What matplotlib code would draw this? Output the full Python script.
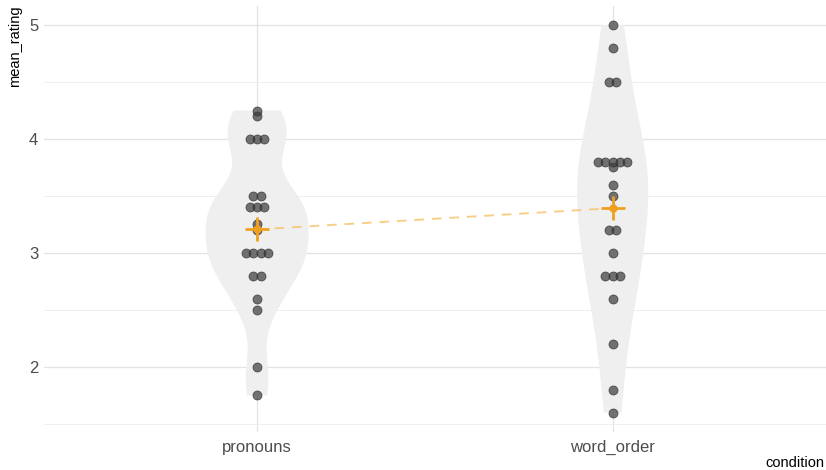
import matplotlib.pyplot as plt
import numpy as np

plt.rcParams['font.family'] = ['Liberation Sans', 'DejaVu Sans']

conditions = ['pronouns', 'word_order']
pronouns = [4.25, 4.2, 4.0, 4.0, 4.0, 3.5, 3.5, 3.4, 3.4, 3.4, 3.25, 3.2,
            3.0, 3.0, 3.0, 3.0, 2.8, 2.8, 2.6, 2.5, 2.0, 1.75]
word_order = [5.0, 4.8, 4.5, 4.5, 3.8, 3.8, 3.8, 3.8, 3.8, 3.75, 3.6, 3.5,
              3.2, 3.2, 3.0, 2.8, 2.8, 2.8, 2.6, 2.2, 1.8, 1.6]
groups = [pronouns, word_order]
bw_adjust = [0.95, 1.35]
violin_widths = [0.29, 0.2]


def nrd0_factor(vals, adjust):
    # R's default bandwidth (nrd0), as a factor of the sd
    d = np.asarray(vals)
    sd = np.std(d, ddof=1)
    iqr = np.subtract(*np.percentile(d, [75, 25]))
    bw = 0.9 * min(sd, iqr / 1.34) * len(d) ** -0.2
    return adjust * bw / sd


fig = plt.figure(figsize=(8.26, 4.70), dpi=100)
ax = fig.add_axes([0.053, 0.081, 0.947, 0.907])

pos = np.arange(1, len(groups) + 1)
for p, vals, adj, w in zip(pos, groups, bw_adjust, violin_widths):
    vp = ax.violinplot([vals], positions=[p], widths=w,
                       bw_method=nrd0_factor(vals, adj),
                       showextrema=False, points=200)
    for body in vp['bodies']:
        body.set_facecolor('#efefef')
        body.set_edgecolor('none')
        body.set_alpha(1)
        body.set_zorder(1)

# dots stacked sideways where values coincide
dx = 0.0205
for p, vals in zip(pos, groups):
    vals = np.array(vals)
    for v in np.unique(vals):
        k = np.sum(vals == v)
        xs = p + (np.arange(k) - (k - 1) / 2) * dx
        ax.scatter(xs, [v] * k, s=42, color='#3a3a3a', alpha=0.7,
                   edgecolor='#2a2a2a', linewidth=0.6, zorder=3)

means = [np.mean(g) for g in groups]
ax.plot(pos, means, color='#f5c46a', linestyle=(0, (5, 4)), lw=1.4,
        alpha=0.8, zorder=4)
ax.plot(pos, means, linestyle='none', marker='+', markersize=17,
        markeredgewidth=2, color='#f0a020', zorder=5)
ax.plot(pos, means, linestyle='none', marker='o', markersize=5,
        color='#f0a020', zorder=5)

ax.set_xlim(0.4, 2.6)
ax.set_ylim(1.43, 5.17)
ax.set_xticks(pos)
ax.set_xticklabels(conditions)
ax.set_yticks([2, 3, 4, 5])
ax.set_yticks([1.5, 2.5, 3.5, 4.5], minor=True)
ax.grid(True, which='major', color='#e3e3e3', lw=0.9, zorder=0)
ax.grid(True, which='minor', axis='y', color='#ececec', lw=0.6, zorder=0)
ax.set_axisbelow(True)
for s in ax.spines.values():
    s.set_visible(False)
ax.tick_params(axis='both', which='both', length=0, labelsize=12,
               labelcolor='#4d4d4d')
ax.tick_params(axis='y', pad=4)
ax.tick_params(axis='x', pad=6)

ax.set_ylabel('mean_rating', fontsize=10.5, loc='top')
ax.yaxis.set_label_coords(-0.028, 1.0)
ax.set_xlabel('condition', fontsize=10.5, loc='right')
ax.xaxis.set_label_coords(0.998, -0.056)

fig.savefig('out.png', dpi=100)
